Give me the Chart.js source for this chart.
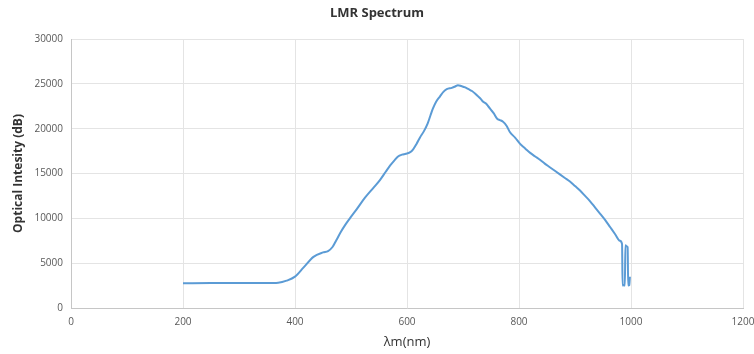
<!DOCTYPE html>
<html lang="en">
<head>
  <meta charset="UTF-8"/>
  <title>LMR Spectrum</title>
  <style>
    body { margin: 0; padding: 0; background: #fff; }
    #wrap { width: 754px; height: 354px; }
  </style>
</head>
<body>
<div id="wrap"><canvas id="chart" width="754" height="354"></canvas></div>

<script src="https://cdn.jsdelivr.net/npm/chart.js"></script>
<script>
// wavelength (nm) and intensity
const wavelengths = [200, 250, 300, 350, 370, 385, 400, 415, 433, 450, 459, 467, 474, 482, 490, 498,
  510, 525, 540, 552, 562, 570, 578, 584, 591, 598, 605, 611, 617, 623, 630, 637, 642, 646, 652,
  659, 665, 671, 680, 686, 691, 697, 704, 710, 716, 722, 727, 732, 736, 741, 745, 750, 755, 761,
  766, 771, 778, 784, 793, 802, 811, 820, 829, 838, 846, 855, 864, 873, 882, 891, 900, 909, 918,
  927, 936, 945, 954, 963, 972, 980, 984, 985, 987, 989, 990, 992, 994, 995, 997, 998];
const intensity = [2750, 2780, 2780, 2780, 2820, 3050, 3500, 4500, 5700, 6200, 6350, 6800, 7580, 8500, 9300, 10000,
  11000, 12300, 13400, 14300, 15200, 15900, 16500, 16900, 17100, 17200, 17350, 17700, 18300, 19000, 19700, 20600, 21500, 22200, 23000,
  23600, 24100, 24400, 24550, 24700, 24850, 24750, 24600, 24400, 24200, 23900, 23600, 23300, 23000, 22800, 22500, 22100, 21700, 21100,
  20950, 20800, 20300, 19600, 19000, 18300, 17800, 17300, 16900, 16500, 16100, 15700, 15300, 14900, 14500, 14100, 13600, 13100, 12500,
  11900, 11200, 10500, 9800, 9000, 8200, 7500, 7150, 2500, 2550, 2500, 7000, 6900, 6800, 2500, 2550, 3500];

const xTicks = [0, 200, 400, 600, 800, 1000, 1200];
const yTicks = [0, 5000, 10000, 15000, 20000, 25000, 30000];

const points = wavelengths.map((w, i) => ({ x: w, y: intensity[i] }));

const FONT = "'Open Sans', 'Noto Sans', sans-serif";

new Chart(document.getElementById("chart").getContext("2d"), {
  type: "line",
  data: {
    datasets: [{
      label: "LMR",
      data: points,
      borderColor: "#5B9BD5",
      borderWidth: 2,
      pointRadius: 0,
      cubicInterpolationMode: "monotone",
      fill: false
    }]
  },
  options: {
    responsive: false,
    animation: false,
    layout: { padding: { left: 0, right: 0, top: 0, bottom: 0 } },
    plugins: {
      legend: { display: false },
      tooltip: { enabled: false },
      title: {
        display: true,
        text: "LMR Spectrum",
        color: "#333",
        font: { family: FONT, size: 13, weight: "bold" },
        padding: { top: 5, bottom: 18.4 }
      }
    },
    scales: {
      x: {
        type: "linear",
        min: 0,
        max: 1200,
        afterBuildTicks: s => { s.ticks = xTicks.map(v => ({ value: v })); },
        afterFit: s => { s.height = 46; s.paddingLeft = 0; s.paddingRight = 11; },
        grid: { color: "#e4e4e4", drawTicks: false },
        border: { color: "#c6c6c6" },
        ticks: { color: "#595959", font: { family: FONT, size: 10 }, padding: 8, maxRotation: 0,
          callback: v => String(v) },
        title: {
          display: true,
          text: "λm(nm)",
          color: "#333",
          font: { family: FONT, size: 13 },
          padding: { top: 0, bottom: 4 }
        }
      },
      y: {
        min: 0,
        max: 30000,
        afterBuildTicks: s => { s.ticks = yTicks.map(v => ({ value: v })); },
        afterFit: s => { s.width = 71; },
        grid: { color: "#e4e4e4", drawTicks: false },
        border: { color: "#c6c6c6" },
        ticks: { color: "#595959", font: { family: FONT, size: 10 }, padding: 8,
          callback: v => String(v) },
        title: {
          display: true,
          text: "Optical Intesity (dB)",
          color: "#333",
          font: { family: FONT, size: 12, weight: "bold" },
          padding: { top: 11, bottom: 0 }
        }
      }
    }
  }
});
</script>
</body>
</html>
